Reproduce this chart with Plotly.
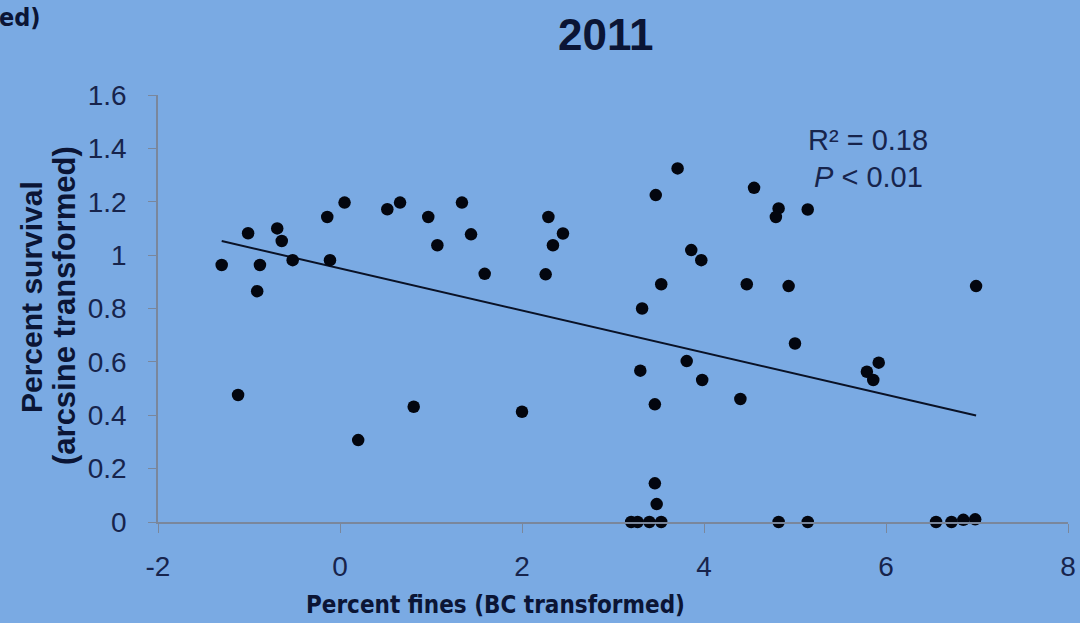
import numpy as np
import plotly.graph_objects as go

# Survival vs. fine sediment, 2011
fines_bc = [
    -1.30, -1.01, -1.12, -0.88, -0.91, -0.69, -0.64, -0.52, -0.14, -0.11,
    0.05, 0.20, 0.52, 0.66, 0.81, 0.97, 1.07, 1.34, 1.44, 1.59,
    2.00, 2.26, 2.29, 2.34, 2.45, 3.71, 3.47, 4.55, 4.82, 4.79,
    5.14, 3.86, 3.97, 3.53, 4.47, 4.93, 6.99, 3.32, 5.00, 3.81,
    3.30, 3.98, 4.40, 3.46, 5.79, 5.92, 5.86, 3.46, 3.48, 3.20,
    3.27, 3.40, 3.53, 4.82, 5.14, 6.55, 6.72, 6.85, 6.98,
]
survival_asin = [
    0.963, 1.082, 0.476, 0.963, 0.865, 1.100, 1.053, 0.981, 1.143, 0.981,
    1.197, 0.307, 1.172, 1.197, 0.432, 1.143, 1.037, 1.197, 1.078, 0.930,
    0.413, 0.928, 1.143, 1.037, 1.081, 1.325, 1.225, 1.252, 1.175, 1.143,
    1.171, 1.019, 0.981, 0.891, 0.891, 0.884, 0.884, 0.800, 0.669, 0.603,
    0.567, 0.532, 0.461, 0.441, 0.563, 0.597, 0.532, 0.145, 0.067, 0.0,
    0.0, 0.0, 0.0, 0.0, 0.0, 0.0, 0.0, 0.008, 0.010,
]
x_ticks = [-2, 0, 2, 4, 6, 8]
y_ticks = [0, 0.2, 0.4, 0.6, 0.8, 1, 1.2, 1.4, 1.6]
y_tick_text = ["0", "0.2", "0.4", "0.6", "0.8", "1", "1.2", "1.4", "1.6"]
stats_r2 = "0.18"
stats_p = "0.01"

# least-squares trend line over the observed range
slope, intercept = np.polyfit(fines_bc, survival_asin, 1)
trend_x = [min(fines_bc), max(fines_bc)]
trend_y = [intercept + slope * v for v in trend_x]

BG = "#7aaae3"
INK = "#0b1535"
TICK_INK = "#17244c"
AXIS = "#7a879c"

W, H = 1080, 623
L, R, T, B = 158, 12, 95, 101


def px(xp):
    return (xp - L) / (W - L - R)


def py(yp):
    return (H - B - yp) / (H - T - B)


fig = go.Figure()
fig.add_trace(go.Scatter(
    x=trend_x, y=trend_y, mode="lines",
    line=dict(color="#0a1226", width=2), hoverinfo="skip",
))
fig.add_trace(go.Scatter(
    x=fines_bc, y=survival_asin, mode="markers",
    marker=dict(color="#03060f", size=12.5, line=dict(width=0)),
    cliponaxis=False,
))

fig.update_layout(
    width=W, height=H,
    margin=dict(l=L, r=R, t=T, b=B, pad=0, autoexpand=False),
    paper_bgcolor=BG, plot_bgcolor=BG,
    showlegend=False,
    font=dict(family="Liberation Sans, Arial, sans-serif", color=TICK_INK),
)
fig.update_xaxes(
    range=[-2, 8], tickvals=x_ticks, ticktext=[str(v) for v in x_ticks],
    automargin=False,
    showgrid=False, zeroline=False, showline=True, linecolor=AXIS, linewidth=1.5,
    ticks="outside", ticklen=9, tickcolor=AXIS, tickwidth=1.2,
    tickfont=dict(size=28, color=TICK_INK), ticklabelstandoff=10,
)
fig.update_yaxes(
    range=[0, 1.6], tickvals=y_ticks, ticktext=y_tick_text,
    automargin=False,
    showgrid=False, zeroline=False, showline=True, linecolor=AXIS, linewidth=1.5,
    ticks="outside", ticklen=8, tickcolor=AXIS, tickwidth=1.2,
    tickfont=dict(size=28, color=TICK_INK), ticklabelstandoff=16,
)

bold = "Liberation Sans, Arial, sans-serif"
cond = "DejaVu Sans Condensed, Liberation Sans Narrow, Arial Narrow, Liberation Sans, sans-serif"
annos = [
    dict(text="<b>2011</b>", x=px(605), y=py(34), size=44, font=bold, angle=0),
    dict(text="<b>ed)</b>", x=px(20), y=py(17), size=25, font=cond, angle=0),
    dict(text="<b>Percent fines (BC transformed)</b>", x=px(495), y=py(605),
         size=24, font=cond, angle=0),
    dict(text="<b>Percent survival</b>", x=px(31), y=py(297), size=30, font=bold, angle=-90),
    dict(text="<b>(arcsine transformed)</b>", x=px(64), y=py(306), size=31, font=bold, angle=-90),
    dict(text="R² = " + stats_r2, x=px(868), y=py(140), size=29, font=bold, angle=0),
    dict(text="<i>P</i> &lt; " + stats_p, x=px(868), y=py(177), size=29, font=bold, angle=0),
]
for a in annos:
    fig.add_annotation(
        text=a["text"], x=a["x"], y=a["y"], xref="paper", yref="paper",
        xanchor="center", yanchor="middle", showarrow=False, textangle=a["angle"],
        font=dict(family=a["font"], size=a["size"],
                  color=INK if "<b>" in a["text"] else TICK_INK),
    )

fig.write_html("out.html")
